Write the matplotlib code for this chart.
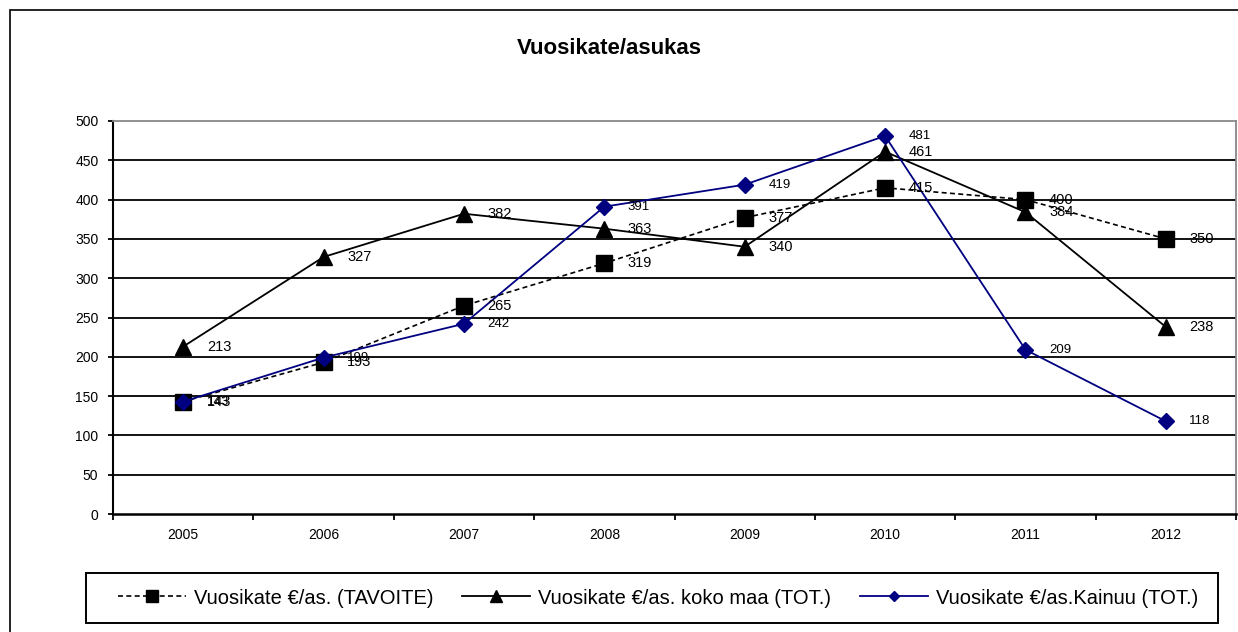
import matplotlib
matplotlib.use("Agg")
import matplotlib.pyplot as plt
from matplotlib.patches import Rectangle
from matplotlib.lines import Line2D

plt.rcParams['font.family'] = ['Liberation Sans', 'DejaVu Sans']

years = ["2005", "2006", "2007", "2008", "2009", "2010", "2011", "2012"]
tavoite = [143, 193, 265, 319, 377, 415, 400, 350]
kokomaa = [213, 327, 382, 363, 340, 461, 384, 238]
kainuu = [143, 199, 242, 391, 419, 481, 209, 118]
labels = ["Vuosikate €/as. (TAVOITE)", "Vuosikate €/as. koko maa (TOT.)", "Vuosikate €/as.Kainuu (TOT.)"]
title = "Vuosikate/asukas"
yticks = [0, 50, 100, 150, 200, 250, 300, 350, 400, 450, 500]

W, H = 1238, 632
fig = plt.figure(figsize=(W / 100, H / 100), dpi=100)
fig.patch.set_facecolor("white")

# outer frame
fig.add_artist(Rectangle((10 / W, -0.05), 1.1, 1 - 10 / H + 0.05, transform=fig.transFigure,
                         fill=False, edgecolor="black", lw=1.2, clip_on=False))

L, R, T, B = 113, 1236, 121, 514
ax = fig.add_axes([L / W, 1 - B / H, (R - L) / W, (B - T) / H])
x = list(range(len(years)))

ax.set_xlim(-0.5, len(years) - 0.5)
ax.set_ylim(0, 500)
ax.set_yticks(yticks)
ax.set_yticklabels([str(v) for v in yticks], fontsize=10)
for v in yticks[1:-1]:
    ax.axhline(v, color="black", lw=1.3, zorder=1)

ax.set_xticks(x)
ax.set_xticklabels(years, fontsize=10)
ax.tick_params(axis="x", length=0, pad=10)
ax.set_xticks([i - 0.5 for i in range(len(years) + 1)], minor=True)
ax.tick_params(axis="x", which="minor", length=4, width=1.3, direction="out")
ax.tick_params(axis="y", length=3.5, width=1.3, direction="out", pad=7)

for s in ["top", "right"]:
    ax.spines[s].set_color("#888888")
    ax.spines[s].set_linewidth(1.3)
ax.spines["left"].set_linewidth(1.5)
ax.spines["bottom"].set_linewidth(1.8)

l1, = ax.plot(x, tavoite, color="black", ls=(0, (3, 2)), lw=1.2, marker="s", ms=11,
              mfc="black", mec="black", zorder=3)
l2, = ax.plot(x, kokomaa, color="black", ls="-", lw=1.3, marker="^", ms=11.5,
              mfc="black", mec="black", zorder=4)
l3, = ax.plot(x, kainuu, color="#000080", ls="-", lw=1.3, marker="D", ms=8.5,
              mfc="#000080", mec="#000080", zorder=5)

for xi, v in zip(x, tavoite):
    ax.annotate(str(v), (xi, v), xytext=(17, 0), textcoords="offset points",
                ha="left", va="center", fontsize=10.5, zorder=6)
for xi, v in zip(x, kokomaa):
    ax.annotate(str(v), (xi, v), xytext=(17, 0), textcoords="offset points",
                ha="left", va="center", fontsize=10.5, zorder=6)
for xi, v in zip(x, kainuu):
    ax.annotate(str(v), (xi, v), xytext=(17, 0), textcoords="offset points",
                ha="left", va="center", fontsize=9.5, zorder=6)

fig.text(609 / W, 1 - 49 / H, title, ha="center", va="center", fontsize=16, fontweight="bold")

# legend box
fig.add_artist(Rectangle((86 / W, 1 - 623 / H), (1218 - 86) / W, 50 / H, transform=fig.transFigure,
                         fill=True, facecolor="white", edgecolor="black", lw=1.4, zorder=2))
h1 = Line2D([], [], color="black", ls=(0, (3, 2)), lw=1.2, marker="s", ms=8.5, mfc="black", mec="black")
h2 = Line2D([], [], color="black", ls="-", lw=1.3, marker="^", ms=8, mfc="black", mec="black")
h3 = Line2D([], [], color="#000080", ls="-", lw=1.3, marker="D", ms=5.5, mfc="#000080", mec="#000080")
leg = fig.legend(handles=[h1, h2, h3], labels=labels, loc="center",
                 bbox_to_anchor=(658 / W, 1 - 598 / H),
                 ncol=3, fontsize=14.5, frameon=False, handlelength=3.4,
                 columnspacing=1.4, handletextpad=0.4, borderpad=0.0)
leg.set_zorder(3)

fig.savefig("out.png", dpi=100)
